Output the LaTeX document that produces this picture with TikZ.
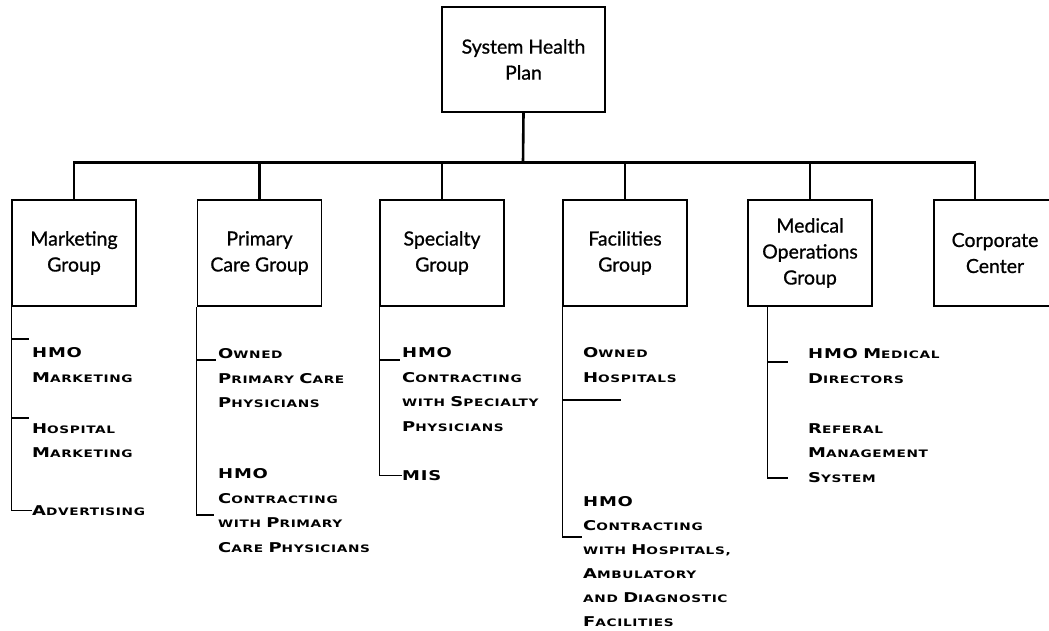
\documentclass[tikz,border=0pt]{standalone}
\usepackage{fontspec}
\setmainfont{Lato}
\newfontfamily\headfont[FakeBold=0.8]{Lato}
\newfontfamily\capsfont[FakeStretch=1.33,LetterSpace=6]{DejaVu Sans Bold}
% fake small capitals: first letter large, rest small
\newcommand\capl[1]{{\fontsize{13.5pt}{13.5pt}\selectfont #1}}
\newcommand\smal[1]{{\fontsize{10.3pt}{10.3pt}\selectfont #1}}
\newcommand\scw[2]{\capl{#1}\smal{#2}}
\begin{document}
\begin{tikzpicture}[x=1pt,y=-1pt,
  unit/.style={draw,line width=1.6pt,minimum width=124pt,minimum height=106pt,
    align=center,inner sep=2pt,font=\headfont\fontsize{19.5pt}{26pt}\selectfont},
  bus/.style={line width=2.6pt},
  branch/.style={line width=1.1pt},
  item/.style={anchor=north west,inner sep=0pt,align=left,
    font=\capsfont\fontsize{10.3pt}{24.8pt}\selectfont}]
\useasboundingbox (0,0) rectangle (1049,631);

% top of the organisation
\node[unit,minimum width=163pt,minimum height=105pt] (top) at (523.5,59.5) {System Health\\Plan};

% groups
\node[unit] (mkt) at (74,253) {Marketing\\Group};
\node[unit] (pcg) at (259.5,253) {Primary\\Care Group};
\node[unit] (spc) at (442,253) {Specialty\\Group};
\node[unit] (fac) at (625,253) {Facilities\\Group};
\node[unit] (med) at (810,253) {Medical\\Operations\\Group};
\node[unit,minimum width=122pt] (corp) at (995,253) {Corporate\\Center};

% bus
\coordinate (jb) at (523,162.5);
\draw[bus] (top.south) -- (jb);
\draw[bus] (mkt.north) |- (jb) -| ([xshift=-20pt]corp.north);
\foreach \g in {pcg,spc,fac,med}
  \draw[bus] (\g.north) -- (\g.north |- jb);

% sub-units
\node[item] (mkt1) at (32,347) {\capl{HMO}\\\scw{M}{ARKETING}};
\node[item] (mkt2) at (32,423) {\scw{H}{OSPITAL}\\\scw{M}{ARKETING}};
\node[item] (mkt3) at (32,505) {\scw{A}{DVERTISING}};

\node[item] (pcg1) at (218,348) {\scw{O}{WNED}\\\scw{P}{RIMARY} \scw{C}{ARE}\\\scw{P}{HYSICIANS}};
\node[item] (pcg2) at (218,468) {\capl{HMO}\\\scw{C}{ONTRACTING}\\\smal{WITH} \scw{P}{RIMARY}\\\scw{C}{ARE} \scw{P}{HYSICIANS}};

\node[item] (spc1) at (402,347) {\capl{HMO}\\\scw{C}{ONTRACTING}\\\smal{WITH} \scw{S}{PECIALTY}\\\scw{P}{HYSICIANS}};
\node[item] (spc2) at (402,470) {\capl{MIS}};

\node[item] (fac1) at (583,347) {\scw{O}{WNED}\\\scw{H}{OSPITALS}};
\node[item,font=\capsfont\fontsize{10.3pt}{24.1pt}\selectfont] (fac2) at (583,496)
  {\capl{HMO}\\\scw{C}{ONTRACTING}\\\smal{WITH} \scw{H}{OSPITALS}\smal{,}\\\scw{A}{MBULATORY}\\\smal{AND} \scw{D}{IAGNOSTIC}\\\scw{F}{ACILITIES}};

\node[item] (med1) at (808,348) {\capl{HMO} \scw{M}{EDICAL}\\\scw{D}{IRECTORS}};
\node[item] (med2) at (808,423) {\scw{R}{EFERAL}\\\scw{M}{ANAGEMENT}\\\scw{S}{YSTEM}};

% branch lines under each group
\draw[branch] (mkt.south west) |- (mkt3.west);
\draw[branch] (mkt.south west |- 0,339) -- ++(18,0);
\draw[branch] (mkt.south west |- 0,418) -- ++(18,0);

\draw[branch] (pcg.south west) |- (214,515);
\draw[branch] (pcg.south west |- 0,360) -- ++(19,0);

\draw[branch] (spc.south west) |- (spc2.west);
\draw[branch] (spc.south west |- 0,360) -- ++(21,0);

\draw[branch] (fac.south west) |- (582,537);
\draw[branch] (fac.south west |- 0,400) -- ++(59,0);

\draw[branch] ([xshift=20pt]med.south west) |- (788,478);
\draw[branch] (768,362) -- (788,362);
\end{tikzpicture}
\end{document}
